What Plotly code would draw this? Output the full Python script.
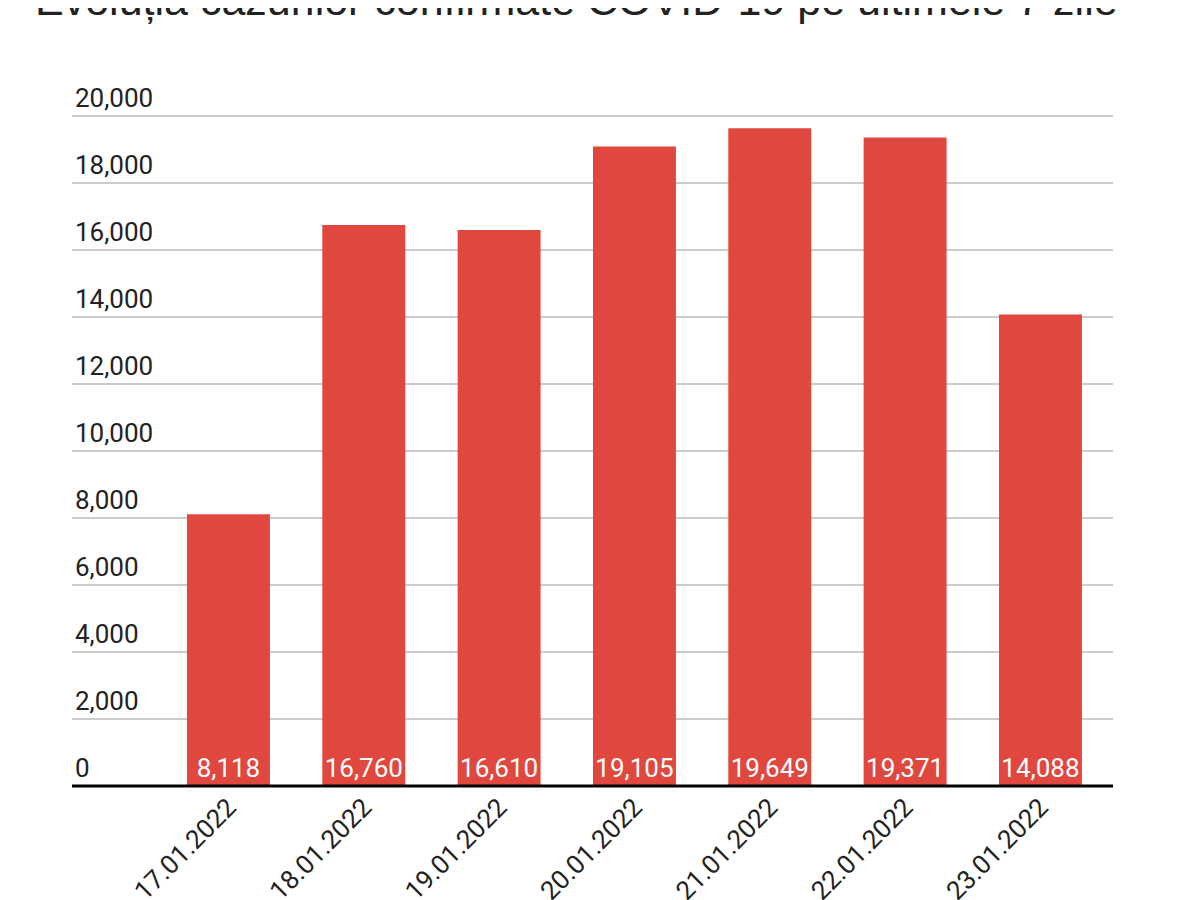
import plotly.graph_objects as go

dates = ["17.01.2022", "18.01.2022", "19.01.2022", "20.01.2022",
         "21.01.2022", "22.01.2022", "23.01.2022"]
cases = [8118, 16760, 16610, 19105, 19649, 19371, 14088]
title_text = "Evoluția cazurilor confirmate COVID-19 pe ultimele 7 zile"
y_ticks = [0, 2000, 4000, 6000, 8000, 10000, 12000, 14000, 16000, 18000, 20000]

BAR = "#E0483F"
FONT = "Roboto, Noto Sans, sans-serif"

fig = go.Figure(go.Bar(
    x=dates, y=cases,
    text=[f"{v:,}" for v in cases],
    textposition="inside", insidetextanchor="start", textangle=0,
    constraintext="none",
    textfont=dict(family=FONT, size=26, color="white"),
    marker=dict(color=BAR, line=dict(width=0)),
    hoverinfo="x+y",
))

# page body adds an 8px offset; margins compensate for it
fig.update_layout(
    width=1200, height=900,
    paper_bgcolor="white", plot_bgcolor="white",
    margin=dict(l=64, r=95, t=74.5, b=98, autoexpand=False),
    bargap=0.387,
    showlegend=False,
    title=dict(text=title_text, x=0.0225, xanchor="left", xref="container",
               y=0.992, yanchor="bottom", yref="container",
               font=dict(family="Liberation Sans, Arial, sans-serif", size=43, color="#222222")),
    xaxis=dict(type="category", range=[-1.156, 6.536], automargin=False,
               anchor="free", position=24 / 727.5,
               tickangle=-45, tickfont=dict(family=FONT, size=26, color="#222222"),
               showline=False, showgrid=False, ticks=""),
    yaxis=dict(range=[-716.4, 21000], tickvals=y_ticks, automargin=False,
               ticktext=[f"{v:,}" for v in y_ticks],
               ticklabelposition="inside top", ticklabelstandoff=0,
               ticklabeloverflow="allow",
               tickfont=dict(family=FONT, size=26, color="#222222"),
               showgrid=True, gridcolor="#cccccc", gridwidth=2,
               zeroline=False, showline=False, ticks=""),
    shapes=[dict(type="line", xref="paper", yref="y", x0=0, x1=1, y0=0, y1=0,
                 line=dict(color="black", width=3), layer="above")],
)

fig.write_html("out.html")
